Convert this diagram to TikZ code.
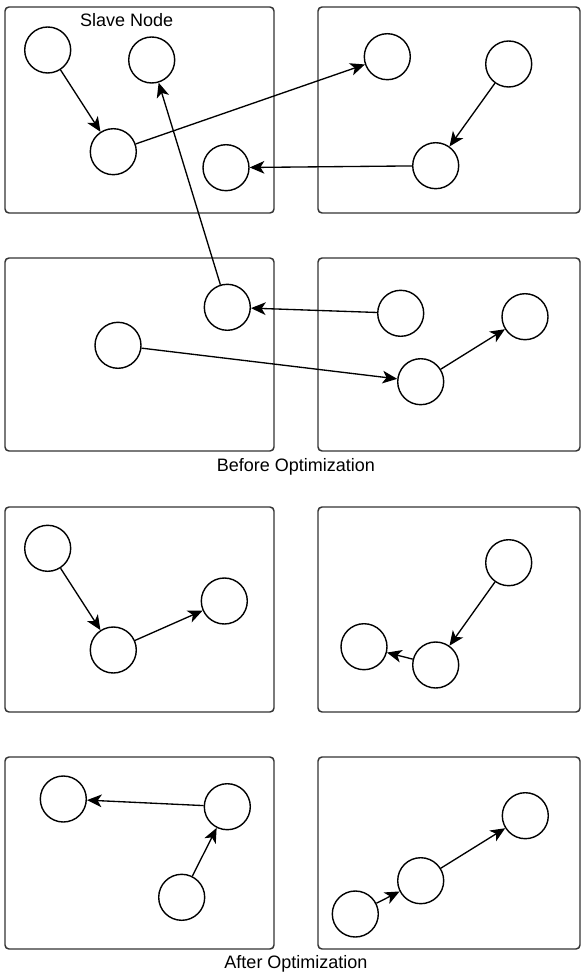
\documentclass[tikz,border=0pt]{standalone}
\usepackage{fontspec}
\setmainfont{Liberation Sans}
\usetikzlibrary{arrows.meta}
\begin{document}
\begin{tikzpicture}[x=0.75pt,y=-0.75pt,
  slavebox/.style={draw=black!80,line width=1.1pt,rounded corners=3pt},
  vertex/.style={circle,draw=black,line width=1.05pt,minimum size=34.5pt,inner sep=0pt},
  link/.style={draw=black,line width=1pt,-{Stealth[length=11pt,width=9.5pt,inset=3pt]}},
  caption/.style={anchor=base,font=\fontsize{13.5}{16}\selectfont}]
\useasboundingbox (0,0) rectangle (582,973);

% slave node frames
\foreach \y/\h in {7/213,258/451,507/712,757/949}{
  \draw[slavebox] (5,\y) rectangle (274,\h);
  \draw[slavebox] (318,\y) rectangle (580,\h);
}

\node[caption] (slavelabel) at (126.7,26.6) {Slave Node};
\node[caption] (before) at (295.8,471.5) {Before Optimization};
\node[caption] (after) at (296,968.5) {After Optimization};

% ---- before optimization ----
\node[vertex] (a1) at (47.7,50) {};
\node[vertex] (a2) at (151.7,60) {};
\node[vertex] (a3) at (113.3,151.7) {};
\node[vertex] (a4) at (226,167.7) {};
\node[vertex] (b1) at (387.3,56.7) {};
\node[vertex] (b2) at (508.7,64) {};
\node[vertex] (b3) at (435.7,165.7) {};
\node[vertex] (c1) at (227.3,307.3) {};
\node[vertex] (c2) at (118,345.3) {};
\node[vertex] (d1) at (400.7,313.3) {};
\node[vertex] (d2) at (525,316.7) {};
\node[vertex] (d3) at (420.7,381.7) {};

\draw[link] (a1) -- (a3);
\draw[link] (a3) -- (b1);
\draw[link] (b2) -- (b3);
\draw[link] (b3) -- (a4);
\draw[link] (c1) -- (a2);
\draw[link] (d1) -- (c1);
\draw[link] (c2) -- (d3);
\draw[link] (d3) -- (d2);

% ---- after optimization ----
\node[vertex] (e1) at (47.7,548.3) {};
\node[vertex] (e2) at (113.3,650) {};
\node[vertex] (e3) at (224.3,601) {};
\node[vertex] (f1) at (508.7,562.7) {};
\node[vertex] (f2) at (435.7,665) {};
\node[vertex] (f3) at (364,646.7) {};
\node[vertex] (g1) at (63.3,799) {};
\node[vertex] (g2) at (227.3,806.7) {};
\node[vertex] (g3) at (181.7,897.3) {};
\node[vertex] (h1) at (525.3,815.7) {};
\node[vertex] (h2) at (420.7,880.7) {};
\node[vertex] (h3) at (355.3,914) {};

\draw[link] (e1) -- (e2);
\draw[link] (e2) -- (e3);
\draw[link] (f1) -- (f2);
\draw[link] (f2) -- (f3);
\draw[link] (g2) -- (g1);
\draw[link] (g3) -- (g2);
\draw[link] (h3) -- (h2);
\draw[link] (h2) -- (h1);
\end{tikzpicture}
\end{document}
